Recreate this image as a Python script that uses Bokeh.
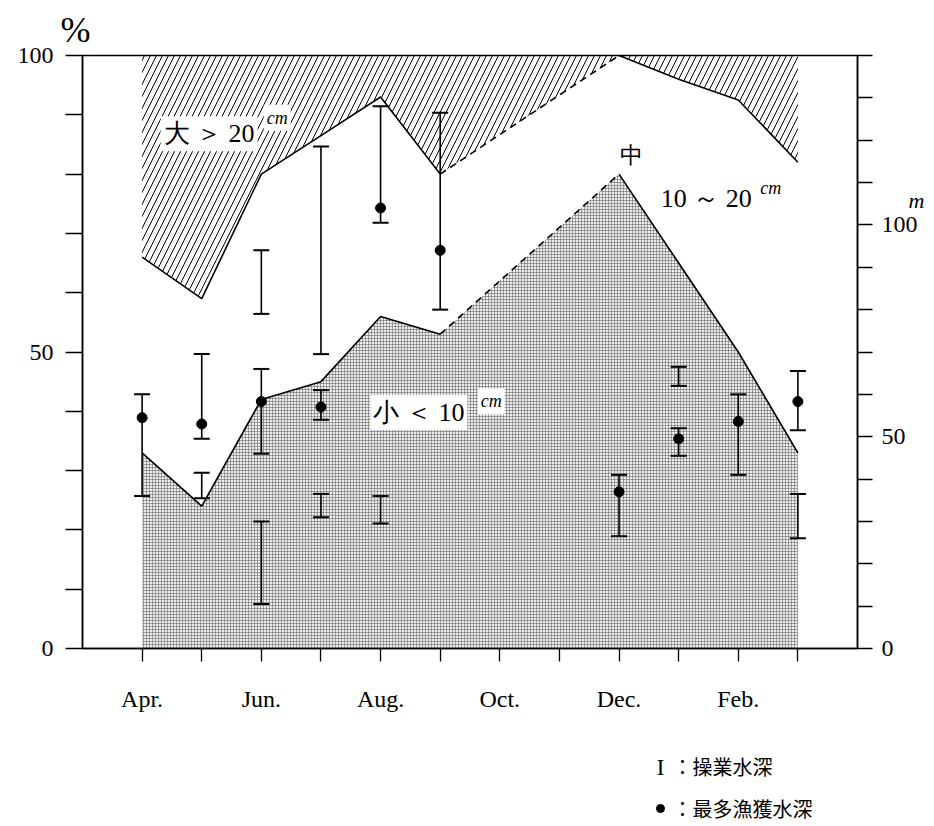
from bokeh.plotting import figure
from bokeh.models import Range1d, LinearAxis, FixedTicker, ColumnDataSource, Label
from bokeh.layouts import column
from bokeh.core.properties import value
from bokeh.embed import file_html
from bokeh.resources import INLINE

# ---- data -------------------------------------------------------------
months = ["Apr.", "May", "Jun.", "Jul.", "Aug.", "Sep.", "Oct.", "Nov.", "Dec.", "Jan.", "Feb.", "Mar."]
month_labels = ["Apr.", "", "Jun.", "", "Aug.", "", "Oct.", "", "Dec.", "", "Feb.", ""]

pct_ticks = [0, 10, 20, 30, 40, 50, 60, 70, 80, 90, 100]
pct_labels = ["0", "", "", "", "", "50", "", "", "", "", "100"]
depth_ticks = [0, 10, 20, 30, 40, 50, 60, 70, 80, 90, 100, 110, 120, 130, 140]
depth_labels = ["0", "", "", "", "", "50", "", "", "", "", "100", "", "", "", ""]

# size composition (%) for months with observations (index into months)
comp_month = [0, 1, 2, 3, 4, 5, 8, 9, 10, 11]
small_pct = [33, 24, 42, 45, 56, 53, 80, 65, 50, 33]      # 小 < 10cm
large_pct = [34, 41, 20, 13.5, 7, 20, 0, 4, 7.5, 18]      # 大 > 20cm

# operating depth ranges (m)  操業水深
bar_month = [0, 1, 1, 2, 2, 2, 3, 3, 3, 4, 4, 5, 8, 9, 9, 10, 11, 11]
bar_low = [36, 49.5, 35.5, 79, 46, 10.5, 69.5, 54, 31, 100.5, 29.5, 80, 26.5, 62, 45.5, 41, 51.5, 26]
bar_high = [60, 69.5, 41.5, 94, 66, 30, 118.5, 61, 36.5, 128, 36, 126.5, 41, 66.5, 52, 60, 65.5, 36.5]

# depth of maximum catch (m)  最多漁獲水深
dot_month = [0, 1, 2, 3, 4, 5, 8, 9, 10, 11]
dot_depth = [54.5, 53, 58.3, 57, 104, 94, 37, 49.5, 53.6, 58.3]

legend_texts = ["：操業水深", "：最多漁獲水深"]

# ---- styling constants ------------------------------------------------
SERIF = "Liberation Serif"
CJK = "Noto Sans CJK JP"
W = 934
FRAME_L, FRAME_R = 82, 857      # pixel extent of the plot frame
M_LABEL_DEPTH = 105.8           # where the unit "m" sits beside the right axis

# ---- main chart -------------------------------------------------------
p = figure(width=W, height=716, x_range=Range1d(-1, 12), y_range=Range1d(0, 100),
           output_backend="svg", toolbar_location=None,
           min_border_left=FRAME_L, min_border_right=W - FRAME_R,
           min_border_top=55, min_border_bottom=68)
p.extra_y_ranges = {"depth": Range1d(0, 140)}
p.xgrid.visible = False
p.ygrid.visible = False
p.background_fill_color = "white"
p.border_fill_color = "white"
p.outline_line_color = "black"
p.outline_line_width = 1.5

# unit of the left axis as a left-aligned title
p.title.text = "%"
p.title.align = "left"
p.title.offset = -22
p.title.standoff = 8
p.title.vertical_align = "top"
p.title.text_font = SERIF
p.title.text_font_style = "normal"
p.title.text_font_size = "36px"
p.title.text_color = "black"

upper_edge = [100 - v for v in large_pct]

# stippled area (small fish)
p.varea(x=comp_month, y1=0, y2=small_pct, fill_color="#eeeeee",
        hatch_pattern="+", hatch_scale=3, hatch_color="#6a6a6a", hatch_weight=0.6)
# hatched area (large fish)
p.varea(x=comp_month, y1=upper_edge, y2=100, fill_color="white", fill_alpha=0,
        hatch_pattern="/", hatch_scale=12, hatch_color="black", hatch_weight=1)

for ys in (small_pct, upper_edge):
    p.line(comp_month[:6], ys[:6], line_color="black", line_width=1.6)
    p.line(comp_month[5:7], ys[5:7], line_color="black", line_width=1.6, line_dash="7 5")
    p.line(comp_month[6:], ys[6:], line_color="black", line_width=1.6)

bars = ColumnDataSource(dict(x=bar_month, lo=bar_low, hi=bar_high))
p.segment(x0="x", y0="lo", x1="x", y1="hi", source=bars, y_range_name="depth",
          line_color="black", line_width=1.6)
p.scatter(x="x", y="lo", source=bars, y_range_name="depth", marker="dash", size=16,
          line_color="black", line_width=2)
p.scatter(x="x", y="hi", source=bars, y_range_name="depth", marker="dash", size=16,
          line_color="black", line_width=2)

p.scatter(x=dot_month, y=dot_depth, y_range_name="depth", marker="circle", size=10,
          fill_color="black", line_color="black")

# ---- axes -------------------------------------------------------------
ly = p.yaxis[0]
ly.ticker = FixedTicker(ticks=pct_ticks, minor_ticks=[])
ly.major_label_overrides = {t: s for t, s in zip(pct_ticks, pct_labels)}
ly.major_tick_out = 17
ly.major_tick_in = 0
ly.minor_tick_out = 0
ly.minor_tick_in = 0
ly.axis_line_width = 1.5
ly.major_tick_line_width = 1.5
ly.major_label_standoff = 12
ly.major_label_text_font = SERIF
ly.major_label_text_font_size = "24px"
ly.major_label_text_color = "black"

ry = LinearAxis(y_range_name="depth", ticker=FixedTicker(ticks=depth_ticks, minor_ticks=[]))
ry.major_label_overrides = {t: s for t, s in zip(depth_ticks, depth_labels)}
ry.major_tick_out = 15
ry.major_tick_in = 0
ry.minor_tick_out = 0
ry.minor_tick_in = 0
ry.axis_line_width = 1.5
ry.major_tick_line_width = 1.5
ry.major_label_standoff = 9
ry.major_label_text_font = SERIF
ry.major_label_text_font_size = "24px"
ry.major_label_text_color = "black"
p.add_layout(ry, "right")

# unit "m" beside the right axis (label-only axis)
ru = LinearAxis(y_range_name="depth",
                ticker=FixedTicker(ticks=[M_LABEL_DEPTH], minor_ticks=[]))
ru.major_label_overrides = {M_LABEL_DEPTH: "m"}
ru.axis_line_color = None
ru.major_tick_line_color = None
ru.minor_tick_line_color = None
ru.major_tick_out = 0
ru.major_tick_in = 0
ru.minor_tick_out = 0
ru.minor_tick_in = 0
ru.major_label_standoff = -12
ru.major_label_text_font = SERIF
ru.major_label_text_font_style = "italic"
ru.major_label_text_font_size = "22px"
ru.major_label_text_color = "black"
p.add_layout(ru, "right")

xa = p.xaxis[0]
xa.ticker = FixedTicker(ticks=list(range(len(months))), minor_ticks=[])
xa.major_label_overrides = {i: s for i, s in enumerate(month_labels)}
xa.major_tick_out = 13
xa.major_tick_in = 0
xa.minor_tick_out = 0
xa.axis_line_width = 1.5
xa.major_tick_line_width = 1.3
xa.major_label_standoff = 24
xa.major_label_text_font = SERIF
xa.major_label_text_font_size = "24px"
xa.major_label_text_color = "black"

# ---- in-chart texts ---------------------------------------------------
def lab(x, y, text, size, style="normal", bg=None):
    kw = dict(x=x, y=y, text=text, text_font=SERIF, text_font_size=size,
              text_font_style=style, text_color="black", text_align="left",
              text_baseline="middle")
    if bg:
        kw.update(background_fill_color=bg, background_fill_alpha=1.0, padding=3)
    p.add_layout(Label(**kw))

lab(0.31, 86.8, "大 ＞ 20", "26px", bg="white")
lab(2.04, 89.5, "cm", "18px", style="italic", bg="white")
lab(8.02, 83.1, "中", "23px")
lab(8.70, 75.9, "10 ～ 20", "26px")
lab(10.37, 77.7, "cm", "18px", style="italic")
lab(3.83, 39.8, "小 ＜ 10", "26px", bg="white")
lab(5.63, 41.7, "cm", "18px", style="italic", bg="white")

# ---- legend strip (its frame is aligned with the chart frame) ---------
leg = figure(width=W, height=110, x_range=Range1d(FRAME_L, FRAME_R), y_range=Range1d(110, 0),
             output_backend="svg", toolbar_location=None,
             x_axis_location=None, y_axis_location=None,
             min_border_left=FRAME_L, min_border_right=W - FRAME_R,
             min_border_top=0, min_border_bottom=0)
leg.xgrid.visible = False
leg.ygrid.visible = False
leg.outline_line_color = None
leg.background_fill_color = "white"
leg.border_fill_color = "white"
leg.text(x=[660], y=[50], text=["I"], text_font=value(SERIF), text_font_size="24px",
         text_align="center", text_baseline="middle", text_color="black")
leg.scatter(x=[660], y=[92], marker="circle", size=8, fill_color="black", line_color="black")
leg.text(x=[672, 672], y=[50, 92], text=legend_texts, text_font=value(CJK),
         text_font_size="20px", text_align="left", text_baseline="middle", text_color="black")

layout = column(p, leg, spacing=0)
open("out.html", "w").write(file_html(layout, INLINE))
